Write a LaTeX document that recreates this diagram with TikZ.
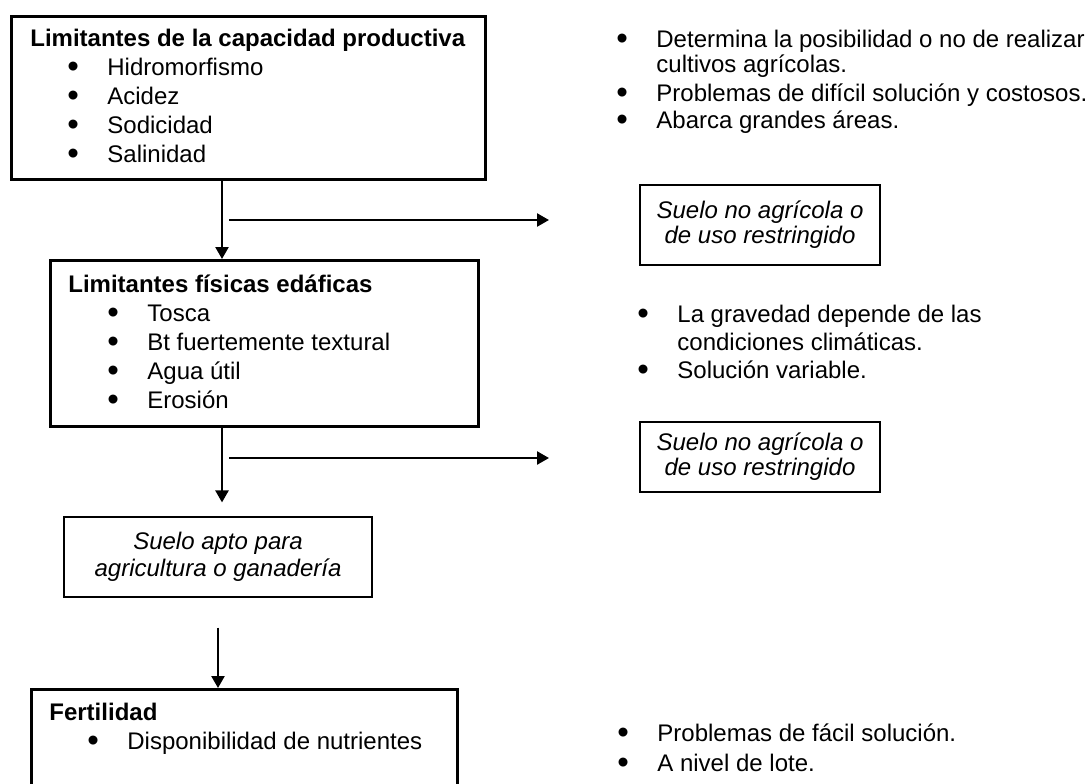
\documentclass[tikz,border=0pt]{standalone}
\usepackage{fontspec}
\setmainfont{Liberation Sans}
\usetikzlibrary{arrows.meta}

\tikzset{
	caja/.style={draw, line width=1.3pt, inner sep=0pt, anchor=north west},
	cajita/.style={draw, line width=0.6pt, inner sep=0pt, align=center},
	linea/.style={anchor=base west, inner sep=0pt},
	flecha/.style={line width=1.2pt, -{Triangle[length=6pt,width=6.5pt]}},
	every node/.style={font=\fontsize{12}{14}\selectfont}
}
\newcommand\punto{\llap{\smash{\raisebox{-1.2pt}{\fontsize{16.5}{14}\selectfont\textbullet}}\hspace{14.2pt}}}

\begin{document}
\begin{tikzpicture}[x=0.5pt, y=-0.5pt]
	\useasboundingbox (0,0) rectangle (1090,783);
	\clip (0,0) rectangle (1090,783);

	% cajas
	\node[caja, minimum width=237pt, minimum height=81.5pt] (cap) at (10,15) {};
	\node[caja, minimum width=214pt, minimum height=83pt] (fis) at (49,259) {};
	\node[caja, minimum width=213pt, minimum height=60pt] (fert) at (30,688) {};
	\node[cajita, minimum width=154pt, minimum height=40pt,
		font=\itshape\fontsize{12}{13.5}\selectfont] (apto) at (218,557)
		{Suelo apto para\\agricultura o ganadería};
	\node[cajita, minimum width=120pt, minimum height=40pt,
		font=\itshape\fontsize{12}{12.5}\selectfont] (noag1) at (760,225)
		{Suelo no agrícola o\\de uso restringido};
	\node[cajita, minimum width=120pt, minimum height=35pt,
		font=\itshape\fontsize{12}{12.5}\selectfont] (noag2) at (760,457)
		{Suelo no agrícola o\\de uso restringido};

	% textos de las cajas
	\node[linea, font=\bfseries\fontsize{12}{14}\selectfont] (capt) at (30,46) {Limitantes de la capacidad productiva};
	\foreach \t [count=\i] in {Hidromorfismo, Acidez, Sodicidad, Salinidad}
		\node[linea] (cap\i) at (107,{46+29*\i}) {\punto\t};
	\node[linea, font=\bfseries\fontsize{12}{14}\selectfont] (fist) at (68,292) {Limitantes físicas edáficas};
	\foreach \t [count=\i] in {Tosca, Bt fuertemente textural, Agua útil, Erosión}
		\node[linea] (fis\i) at (147,{292+29*\i}) {\punto\t};
	\node[linea, font=\bfseries\fontsize{12}{14}\selectfont] (fertt) at (49,720) {Fertilidad};
	\node[linea] (fert1) at (127,749) {\punto Disponibilidad de nutrientes};

	% notas a la derecha
	\node[linea] (nota1) at (656,47) {\punto Determina la posibilidad o no de realizar};
	\node[linea] (nota2) at (656,72) {cultivos agrícolas.};
	\node[linea] (nota3) at (656,101) {\punto Problemas de difícil solución y costosos.};
	\node[linea] (nota4) at (656,128) {\punto Abarca grandes áreas.};
	\node[linea] (nota5) at (677,322) {\punto La gravedad depende de las};
	\node[linea] (nota6) at (677,350) {condiciones climáticas.};
	\node[linea] (nota7) at (677,378) {\punto Solución variable.};
	\node[linea] (nota8) at (657,741) {\punto Problemas de fácil solución.};
	\node[linea] (nota9) at (657,771) {\punto A nivel de lote.};

	% flechas
	\coordinate (h1) at (229,220);
	\coordinate (h2) at (229,458);
	\draw[flecha] ([xshift=106pt]cap.south west) coordinate (v1) -- (v1 |- fis.north);
	\draw[flecha] (h1) -- ++(320,0);
	\draw[flecha] ([xshift=86.5pt]fis.south west) coordinate (v2) -- ([yshift=7pt]v2 |- apto.north);
	\draw[flecha] (h2) -- ++(320,0);
	\draw[flecha] ([yshift=-15pt]apto.south) coordinate (v3) -- (v3 |- fert.north);
\end{tikzpicture}
\end{document}
